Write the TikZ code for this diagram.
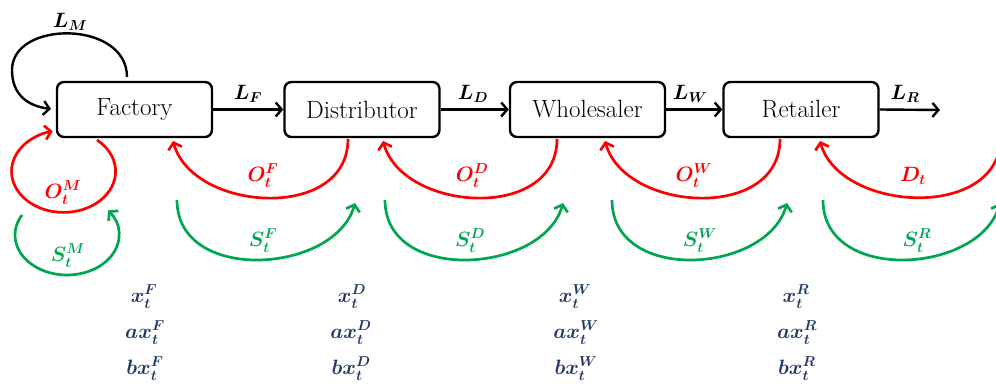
\documentclass[tikz,border=0pt]{standalone}
\usepackage{bm}
\usetikzlibrary{arrows.meta}
\definecolor{ored}{HTML}{FF0000}
\definecolor{sgreen}{HTML}{00A651}
\definecolor{navy}{HTML}{1F3864}
\begin{document}
\begin{tikzpicture}[x=1pt,y=-1pt,
  stage/.style={draw, line width=2.4pt, rounded corners=7pt, minimum width=155pt,
    minimum height=55pt, inner sep=0pt, font=\fontsize{25}{29}\selectfont},
  tipk/.style={-{Straight Barb[length=6pt,width=14pt]}},
  flow/.style={line width=2.4pt, tipk},
  ordr/.style={draw=ored, line width=2.7pt, tipk},
  shp/.style={draw=sgreen, line width=2.7pt, tipk},
  lab/.style={font=\boldmath\fontsize{20.5}{24}\selectfont, inner sep=0pt},
  olab/.style={lab, text=ored},
  slab/.style={lab, text=sgreen},
  xlab/.style={font=\boldmath\fontsize{21}{24}\selectfont, inner sep=0pt, text=navy}]
\useasboundingbox (0,0) rectangle (996,387);
\clip (0,0) rectangle (996,387);

% stages
\node[stage] (fac) at (134.5,109.5) {Factory};
\node[stage] (dis) at (362,109.5) {Distributor};
\node[stage] (whs) at (587.5,109.5) {Wholesaler};
\node[stage] (ret) at (801,109.5) {Retailer};
\coordinate (out) at (940,110);

% material flow
\draw[flow] (fac.east) -- (dis.west);
\draw[flow] (dis.east) -- (whs.west);
\draw[flow] (whs.east) -- (ret.west);
\draw[flow] (ret.east) -- (out);
\node[lab] (lF) at (248,94) {$L_F$};
\node[lab] (lD) at (473,94) {$L_D$};
\node[lab] (lW) at (690,94) {$L_W$};
\node[lab] (lR) at (905,94) {$L_R$};

% factory lead time loop
\coordinate (lmS) at (127,77);
\coordinate (lmE) at (51,109);
\draw[flow] (lmS) .. controls (127,20) and (12,20) .. (12,70)
  .. controls (12,95) and (28,106) .. (lmE);
\node[lab] (lM) at (70,22) {$L_M$};

% factory order / shipment loops
\coordinate (omS) at (97,140);
\draw[ordr] (omS) arc[start angle=-50, end angle=258, x radius=52, y radius=41];
\node[olab] (oM) at (63,193) {$O_t^M$};
\coordinate (smS) at (22,215);
\draw[shp] (smS) arc[start angle=210, end angle=-38, x radius=52, y radius=40];
\node[slab] (sM) at (68,256) {$S_t^M$};

% orders (red) and shipments (green) between stages
\coordinate (oF1) at (348,139); \coordinate (oF2) at (173,141);
\draw[ordr] (oF1) .. controls (348,222) and (193,212) .. (oF2);
\node[olab] (oF) at (263,176) {$O_t^F$};
\coordinate (sF1) at (177,200); \coordinate (sF2) at (355,203);
\draw[shp] (sF1) .. controls (177,284) and (335,274) .. (sF2);
\node[slab] (sF) at (263,241) {$S_t^F$};

\coordinate (oD1) at (557,139); \coordinate (oD2) at (383,141);
\draw[ordr] (oD1) .. controls (557,222) and (403,212) .. (oD2);
\node[olab] (oD) at (472,176) {$O_t^D$};
\coordinate (sD1) at (385,200); \coordinate (sD2) at (563,203);
\draw[shp] (sD1) .. controls (385,284) and (543,274) .. (sD2);
\node[slab] (sD) at (470,241) {$S_t^D$};

\coordinate (oW1) at (780,139); \coordinate (oW2) at (605,141);
\draw[ordr] (oW1) .. controls (780,222) and (625,212) .. (oW2);
\node[olab] (oW) at (694,176) {$O_t^W$};
\coordinate (sW1) at (612,200); \coordinate (sW2) at (787,203);
\draw[shp] (sW1) .. controls (612,284) and (767,274) .. (sW2);
\node[slab] (sW) at (700,241) {$S_t^W$};

\coordinate (dR1) at (1001,136); \coordinate (dR2) at (820,141);
\draw[ordr] (dR1) .. controls (1001,222) and (840,212) .. (dR2);
\node[olab] (dT) at (913,176) {$D_t$};
\coordinate (sR1) at (823,200); \coordinate (sR2) at (1000,203);
\draw[shp] (sR1) .. controls (823,284) and (980,274) .. (sR2);
\node[slab] (sR) at (917,241) {$S_t^R$};

% state variables
\node[xlab] (xF) at (144,297) {$x_t^F$};
\node[xlab] (axF) at (145,333) {$ax_t^F$};
\node[xlab] (bxF) at (145,369) {$bx_t^F$};
\node[xlab] (xD) at (352,297) {$x_t^D$};
\node[xlab] (axD) at (351,333) {$ax_t^D$};
\node[xlab] (bxD) at (351,369) {$bx_t^D$};
\node[xlab] (xW) at (575,297) {$x_t^W$};
\node[xlab] (axW) at (576,333) {$ax_t^W$};
\node[xlab] (bxW) at (576,369) {$bx_t^W$};
\node[xlab] (xR) at (796,297) {$x_t^R$};
\node[xlab] (axR) at (797,333) {$ax_t^R$};
\node[xlab] (bxR) at (797,369) {$bx_t^R$};
\end{tikzpicture}
\end{document}
